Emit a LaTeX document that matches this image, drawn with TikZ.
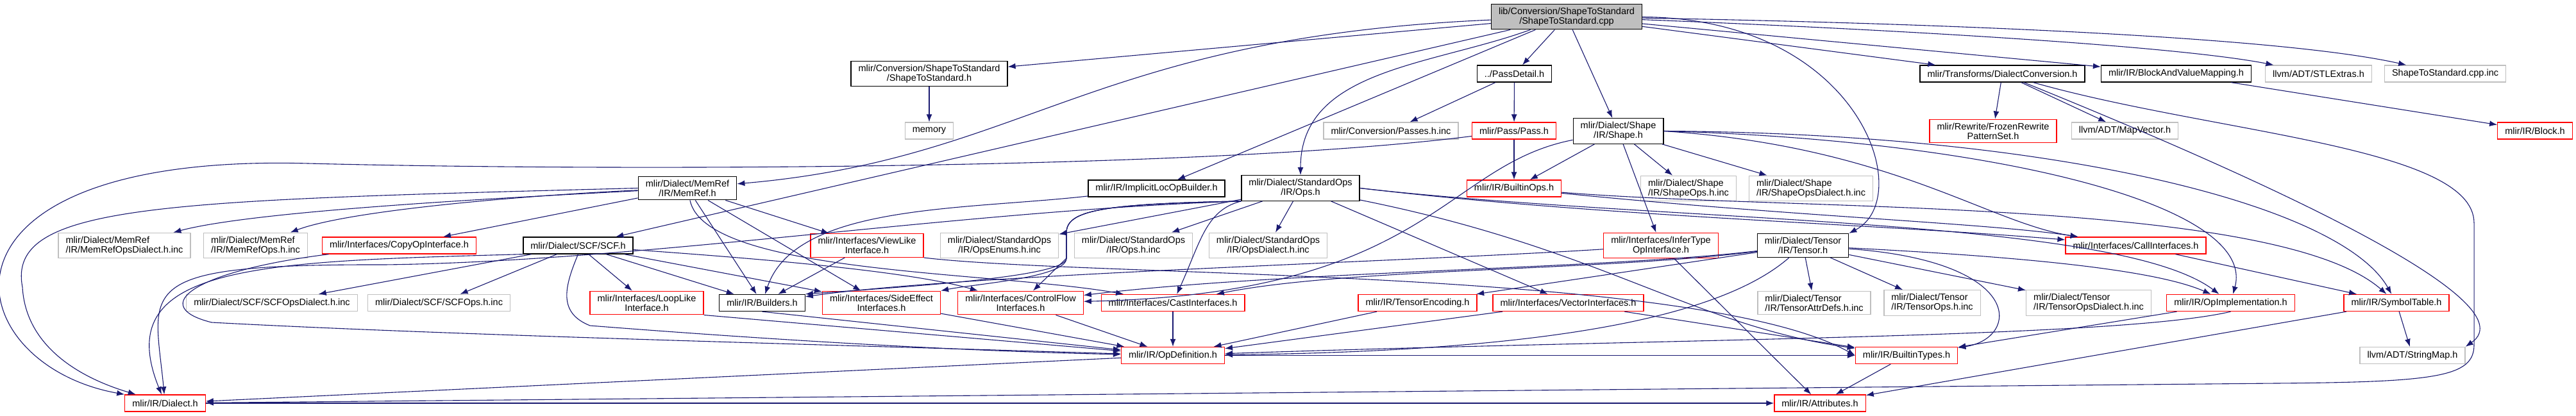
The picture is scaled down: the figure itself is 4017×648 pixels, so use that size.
\documentclass[tikz,border=0pt]{standalone}
\usepackage{fontspec}
\setmainfont{Liberation Sans}
\usepackage{tikz}
\usetikzlibrary{arrows.meta}
\usepackage{xcolor}
\definecolor{doxblue}{HTML}{191970}
\definecolor{doxgray}{HTML}{BFBFBF}
\definecolor{doxred}{HTML}{FF0000}

\begin{document}
\begin{tikzpicture}[x=1pt, y=1pt,
  file/.style={draw, align=center, inner xsep=11.5pt, inner ysep=5.5pt,
    minimum height=26pt, line width=1.3pt,
    font=\fontsize{14.5}{15}\selectfont},
  hdr/.style={file, draw=black},
  sys/.style={file, draw=doxgray},
  cut/.style={file, draw=doxred},
  src/.style={file, draw=black, fill=doxgray},
  dep/.style={draw=doxblue, line width=1.1pt,
    -{Latex[length=12pt, width=9pt]}}]
\useasboundingbox (0,0) rectangle (4017,648);
\node (cpp) [src] at (2443,622) {lib/Conversion/ShapeToStandard\\/ShapeToStandard.cpp};
\node (s2sh) [hdr] at (1449,533) {mlir/Conversion/ShapeToStandard\\/ShapeToStandard.h};
\node (pd) [hdr] at (2361.5,533) {../PassDetail.h};
\node (dc) [hdr] at (3122.5,533) {mlir/Transforms/DialectConversion.h};
\node (bvm) [hdr] at (3393.5,533) {mlir/IR/BlockAndValueMapping.h};
\node (stl) [sys] at (3615.5,533) {llvm/ADT/STLExtras.h};
\node (cppinc) [sys] at (3813,533) {ShapeToStandard.cpp.inc};
\node (mem) [sys] at (1449,444) {memory};
\node (passinc) [sys] at (2169,444) {mlir/Conversion/Passes.h.inc};
\node (pass) [cut] at (2361,444) {mlir/Pass/Pass.h};
\node (shape) [hdr] at (2523.5,443.5) {mlir/Dialect/Shape\\/IR/Shape.h};
\node (frozen) [cut] at (3108,443.5) {mlir/Rewrite/FrozenRewrite\\PatternSet.h};
\node (mapvec) [sys] at (3313.5,444) {llvm/ADT/MapVector.h};
\node (block) [cut] at (3953,444) {mlir/IR/Block.h};
\node (memref) [hdr] at (1072,354.5) {mlir/Dialect/MemRef\\/IR/MemRef.h};
\node (iloc) [hdr] at (1803.5,354) {mlir/IR/ImplicitLocOpBuilder.h};
\node (stdops) [hdr] at (2028,354.5) {mlir/Dialect/StandardOps\\/IR/Ops.h};
\node (bops) [cut] at (2361,354) {mlir/IR/BuiltinOps.h};
\node (shinc) [sys, align=left] at (2633,354) {mlir/Dialect/Shape\\/IR/ShapeOps.h.inc};
\node (shdinc) [sys, align=left] at (2824,354) {mlir/Dialect/Shape\\/IR/ShapeOpsDialect.h.inc};
\node (mrdinc) [sys, align=left] at (194,265) {mlir/Dialect/MemRef\\/IR/MemRefOpsDialect.h.inc};
\node (mrinc) [sys, align=left] at (398.5,265) {mlir/Dialect/MemRef\\/IR/MemRefOps.h.inc};
\node (copy) [cut] at (622.5,265) {mlir/Interfaces/CopyOpInterface.h};
\node (scf) [hdr] at (901.5,265) {mlir/Dialect/SCF/SCF.h};
\node (view) [cut] at (1352,265) {mlir/Interfaces/ViewLike\\Interface.h};
\node (enuminc) [sys] at (1558.5,265) {mlir/Dialect/StandardOps\\/IR/OpsEnums.h.inc};
\node (opsinc) [sys] at (1767.5,265) {mlir/Dialect/StandardOps\\/IR/Ops.h.inc};
\node (opsdinc) [sys] at (1977.5,265) {mlir/Dialect/StandardOps\\/IR/OpsDialect.h.inc};
\node (infer) [cut] at (2590,265) {mlir/Interfaces/InferType\\OpInterface.h};
\node (tensor) [hdr] at (2811.5,265) {mlir/Dialect/Tensor\\/IR/Tensor.h};
\node (call) [cut] at (3330.5,265) {mlir/Interfaces/CallInterfaces.h};
\node (scfdinc) [sys] at (424,175.5) {mlir/Dialect/SCF/SCFOpsDialect.h.inc};
\node (scfinc) [sys] at (684.5,175.5) {mlir/Dialect/SCF/SCFOps.h.inc};
\node (loop) [cut] at (1008.5,175.5) {mlir/Interfaces/LoopLike\\Interface.h};
\node (build) [hdr] at (1188.5,175.5) {mlir/IR/Builders.h};
\node (side) [cut] at (1374.5,175.5) {mlir/Interfaces/SideEffect\\Interfaces.h};
\node (ctrl) [cut] at (1591.5,175.5) {mlir/Interfaces/ControlFlow\\Interfaces.h};
\node (cast) [cut] at (1829,175.5) {mlir/Interfaces/CastInterfaces.h};
\node (enc) [cut] at (2210.5,175.5) {mlir/IR/TensorEncoding.h};
\node (vec) [cut] at (2445.5,175.5) {mlir/Interfaces/VectorInterfaces.h};
\node (tattr) [sys, align=left] at (2829,175.5) {mlir/Dialect/Tensor\\/IR/TensorAttrDefs.h.inc};
\node (tops) [sys, align=left] at (3013,175.5) {mlir/Dialect/Tensor\\/IR/TensorOps.h.inc};
\node (tdinc) [sys, align=left] at (3257,175.5) {mlir/Dialect/Tensor\\/IR/TensorOpsDialect.h.inc};
\node (opimpl) [cut] at (3478.5,175.5) {mlir/IR/OpImplementation.h};
\node (sym) [cut] at (3737,175.5) {mlir/IR/SymbolTable.h};
\node (opdef) [cut] at (1829,93.5) {mlir/IR/OpDefinition.h};
\node (btypes) [cut] at (2973,93.5) {mlir/IR/BuiltinTypes.h};
\node (smap) [sys] at (3762,93.5) {llvm/ADT/StringMap.h};
\node (dialect) [cut] at (257.5,19) {mlir/IR/Dialect.h};
\node (attr) [cut] at (2838,19) {mlir/IR/Attributes.h};
\draw[dep] (cpp) -- (s2sh);
\draw[dep] (cpp) .. controls (1700,590) and (1600,400) .. (memref);
\draw[dep] (cpp) -- (scf);
\draw[dep] (cpp) -- (iloc);
\draw[dep] (cpp) .. controls (2230,545) and (2028,540) .. (stdops);
\draw[dep] (cpp) -- (pd);
\draw[dep] (cpp) -- (shape);
\draw[dep] (cpp) -- (dc);
\draw[dep] (cpp) -- (bvm);
\draw[dep] (cpp) .. controls (3000,600) and (3400,575) .. (stl);
\draw[dep] (cpp) .. controls (3000,612) and (3550,592) .. (cppinc);
\draw[dep] (cpp) .. controls (2900,620) and (2990,340) .. (tensor.north east);
\draw[dep] (s2sh) -- (mem);
\draw[dep] (pd) -- (passinc);
\draw[dep] (pd) -- (pass);
\draw[dep] (pass) -- (bops);
\draw[dep] (pass) .. controls (1900,385) and (1000,380) .. (480,393)
  .. controls (-140,410) and (-70,80) .. (dialect.north west);
\draw[dep] (dc) -- (frozen);
\draw[dep] (dc) -- (mapvec);
\draw[dep] (dc) .. controls (3500,380) and (3950,180) .. (smap.north east);
\draw[dep] (dc) .. controls (3450,440) and (3858,420) .. (3858,300) -- (3858,110)
  .. controls (3858,60) and (3800,52) .. (3550,50) -- (dialect);
\draw[dep] (bvm) -- (block);
\draw[dep] (shape) -- (bops);
\draw[dep] (shape) -- (shinc);
\draw[dep] (shape) -- (shdinc);
\draw[dep] (shape) -- (infer);
\draw[dep] (shape) .. controls (2250,390) and (2230,190) .. (ctrl);
\draw[dep] (shape.east) .. controls (2950,420) and (3100,300) .. (call);
\draw[dep] (shape.east) .. controls (3100,430) and (3520,330) .. (opimpl);
\draw[dep] (shape.east) .. controls (3200,440) and (3650,330) .. (sym);
\draw[dep] (memref) .. controls (800,340) and (400,320) .. (mrdinc);
\draw[dep] (memref) .. controls (850,345) and (550,322) .. (mrinc);
\draw[dep] (memref) -- (copy);
\draw[dep] (memref.west) .. controls (250,335) and (10,330) .. (35,200)
  .. controls (40,110) and (120,60) .. (dialect);
\draw[dep] (memref) -- (view);
\draw[dep] (memref) -- (build);
\draw[dep] (memref) -- (side);
\draw[dep] (memref) .. controls (1100,220) and (1550,225) .. (cast);
\draw[dep] (iloc) .. controls (1500,320) and (1240,330) .. (build);
\draw[dep] (stdops) -- (enuminc);
\draw[dep] (stdops) -- (opsinc);
\draw[dep] (stdops) -- (opsdinc);
\draw[dep] (stdops.south west) .. controls (1500,320) and (1000,240) .. (600,235)
  .. controls (200,236) and (240,200) .. (dialect);
\draw[dep] (stdops.south west) .. controls (1720,330) and (1663,320) .. (1663,285)
  -- (1663,245) .. controls (1663,215) and (1400,200) .. (build.north east);
\draw[dep] (stdops.south west) .. controls (1720,330) and (1663,320) .. (1663,285)
  -- (1663,245) .. controls (1663,215) and (1520,205) .. (side.north east);
\draw[dep] (stdops.south west) .. controls (1720,330) and (1663,320) .. (1663,285)
  -- (1663,245) -- (ctrl);
\draw[dep] (stdops.south west) .. controls (1880,320) and (1872,270) .. (cast);
\draw[dep] (stdops) -- (vec);
\draw[dep] (stdops.east) .. controls (2500,310) and (2900,300) .. (call);
\draw[dep] (stdops.east) .. controls (2600,300) and (3300,310) .. (opimpl);
\draw[dep] (stdops) .. controls (2500,260) and (2640,140) .. (btypes);
\draw[dep] (bops) .. controls (2800,318) and (3550,340) .. (sym);
\draw[dep] (bops) .. controls (2800,310) and (3100,300) .. (call);
\draw[dep] (copy) .. controls (300,225) and (230,170) .. (330,145)
  .. controls (700,125) and (1300,110) .. (opdef);
\draw[dep] (scf) -- (scfdinc);
\draw[dep] (scf) -- (scfinc);
\draw[dep] (scf) -- (loop);
\draw[dep] (scf.south west) .. controls (400,240) and (170,235) .. (dialect);
\draw[dep] (scf.south) .. controls (880,200) and (870,160) .. (920,140)
  .. controls (1200,118) and (1500,100) .. (opdef);
\draw[dep] (scf) -- (build);
\draw[dep] (scf) -- (side);
\draw[dep] (scf) .. controls (1100,250) and (1400,230) .. (ctrl);
\draw[dep] (tensor) -- (tattr);
\draw[dep] (tensor) -- (tops);
\draw[dep] (tensor) -- (tdinc);
\draw[dep] (tensor) .. controls (3160,240) and (3150,120) .. (btypes);
\draw[dep] (tensor) .. controls (3100,250) and (3350,232) .. (opimpl);
\draw[dep] (tensor) -- (enc);
\draw[dep] (tensor) .. controls (2680,150) and (2400,100) .. (opdef);
\draw[dep] (tensor) .. controls (2500,225) and (2100,230) .. (cast);
\draw[dep] (tensor) .. controls (2500,228) and (2000,225) .. (ctrl);
\draw[dep] (infer) -- (attr);
\draw[dep] (infer) .. controls (2200,240) and (1500,220) .. (build);
\draw[dep] (view) -- (build);
\draw[dep] (view.south east) .. controls (1700,215) and (2650,230) .. (btypes.west);
\draw[dep] (loop.south east) -- (opdef);
\draw[dep] (build.south) -- (opdef);
\draw[dep] (side) -- (opdef);
\draw[dep] (ctrl) -- (opdef);
\draw[dep] (cast) -- (opdef);
\draw[dep] (enc) -- (opdef);
\draw[dep] (vec) -- (opdef);
\draw[dep] (vec) -- (btypes);
\draw[dep] (call) -- (sym);
\draw[dep] (opimpl) -- (btypes);
\draw[dep] (opimpl.south) .. controls (3300,120) and (2600,120) .. (opdef);
\draw[dep] (sym) -- (smap);
\draw[dep] (sym) -- (attr);
\draw[dep] (opdef) -- (dialect);
\draw[dep] (opdef) -- (btypes);
\draw[dep] (btypes) -- (attr);
\draw[dep] (dialect) -- (attr);
\end{tikzpicture}
\end{document}
